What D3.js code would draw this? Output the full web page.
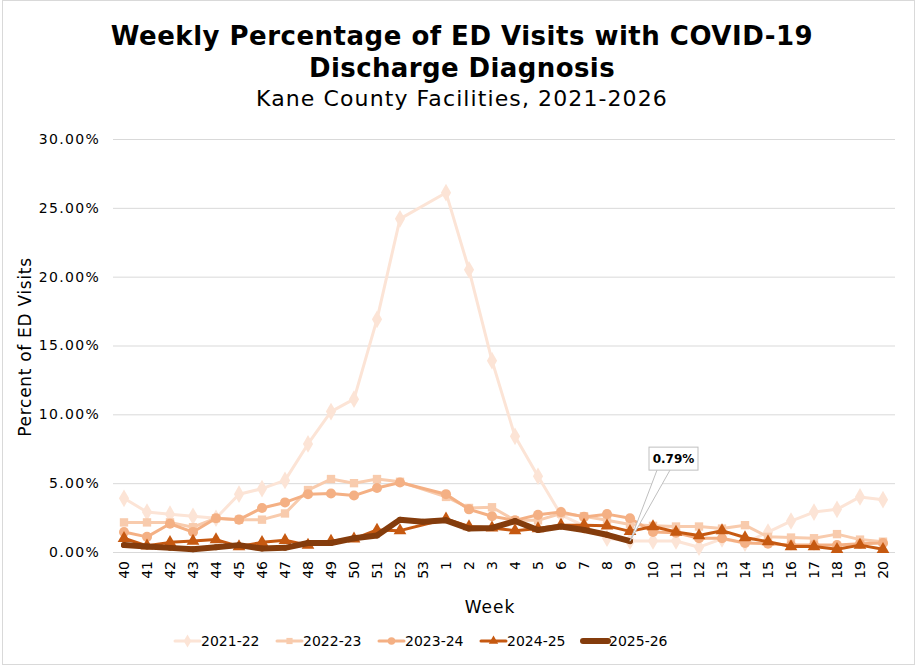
<!DOCTYPE html>
<html>
<head>
<meta charset="utf-8">
<title>Weekly Percentage of ED Visits with COVID-19</title>
<script src="https://d3js.org/d3.v7.min.js"></script>
<style>
  body { margin: 0; background: #fff; }
  svg text { font-family: "DejaVu Sans", Verdana, sans-serif; fill: #000; }
</style>
</head>
<body>
<script>
// weeks run from MMWR week 40 through week 20 of the next year
var weeks = ["40","41","42","43","44","45","46","47","48","49","50","51","52","53",
             "1","2","3","4","5","6","7","8","9","10","11","12","13","14","15","16","17","18","19","20"];
var seasons = ["2021-22", "2022-23", "2023-24", "2024-25", "2025-26"];

// percent of ED visits (null = no week 53 / not reported yet)
var s2122 = [3.9, 2.9, 2.75, 2.6, 2.45, 4.2, 4.6, 5.2, 7.85, 10.2, 11.1, 16.9, 24.2, null,
             26.1, 20.5, 13.9, 8.4, 5.5, 2.7, 1.9, 1.0, 0.8, 0.8, 0.8, 0.35, 0.95, 0.65, 1.45, 2.25, 2.9, 3.1, 4.0, 3.8];
var s2223 = [2.15, 2.15, 2.15, 1.8, 2.45, 2.35, 2.35, 2.8, 4.5, 5.3, 5.0, 5.3, 5.1, null,
             4.0, 3.2, 3.25, 2.3, 2.3, 2.8, 2.6, 2.3, 2.0, 1.9, 1.85, 1.85, 1.7, 1.95, 1.1, 1.05, 1.0, 1.3, 0.9, 0.75];
var s2324 = [1.45, 1.1, 2.05, 1.45, 2.45, 2.35, 3.2, 3.6, 4.2, 4.25, 4.1, 4.65, 5.05, null,
             4.2, 3.1, 2.6, 2.3, 2.7, 2.9, 2.55, 2.75, 2.45, 1.45, 1.4, 1.0, 1.0, 0.65, 0.6, 0.5, 0.5, 0.5, 0.6, 0.65];
var s2425 = [1.0, 0.45, 0.7, 0.8, 0.9, 0.4, 0.7, 0.85, 0.5, 0.8, 0.95, 1.6, 1.55, null,
             2.4, 1.85, 1.75, 1.55, 1.7, 1.95, 1.95, 1.9, 1.5, 1.85, 1.45, 1.2, 1.55, 1.05, 0.75, 0.4, 0.4, 0.2, 0.5, 0.2];
var s2526 = [0.5, 0.4, 0.3, 0.2, 0.35, 0.5, 0.25, 0.3, 0.65, 0.65, 1.0, 1.2, 2.35, 2.2,
             2.3, 1.7, 1.75, 2.25, 1.6, 1.85, 1.6, 1.25, 0.79, null, null, null, null, null, null, null, null, null, null, null];
var yTicks = [0, 5, 10, 15, 20, 25, 30];

var colors  = ["#fce4d6", "#f8cbad", "#f4b084", "#c65911", "#843c0c"];
var widths  = [3, 3, 3, 3, 6];
var symbols = [d3.symbolDiamond, d3.symbolSquare, d3.symbolCircle, d3.symbolTriangle, d3.symbolCircle];
var symSize = [90, 70, 80, 70, 28];

var allSeries = [s2122, s2223, s2324, s2425, s2526].map(function(vals, i) {
  return {
    name: seasons[i],
    points: weeks.map(function(w, j) { return { week: w, value: vals[j] }; })
                 .filter(function(d) { return d.value !== null; })
  };
});

var width = 916, height = 668;
var svg = d3.select("body").append("svg").attr("width", width).attr("height", height);

svg.append("rect").attr("x", 2.5).attr("y", 0.5).attr("width", width - 4).attr("height", height - 4)
   .attr("fill", "#fff").attr("stroke", "#d9d9d9");

var x = d3.scalePoint().domain(weeks).range([124, 883]);
var y = d3.scaleLinear().domain([0, 30]).range([552, 139]);

// gridlines + y tick labels
var yAxis = d3.axisLeft(y).tickValues(yTicks).tickSize(-(895 - 113)).tickPadding(13)
              .tickFormat(function(d) { return d.toFixed(2) + "%"; });
var gy = svg.append("g").attr("transform", "translate(113,0)").call(yAxis);
gy.select(".domain").remove();
gy.selectAll("line").attr("stroke", "#d9d9d9");
gy.selectAll("text").attr("font-size", 14).attr("letter-spacing", 1.3).attr("fill", "#000");

// x axis
var gx = svg.append("g").attr("transform", "translate(0,552)").call(d3.axisBottom(x).tickSize(0));
gx.select(".domain").attr("d", "M113,0.5H895").attr("stroke", "#d9d9d9");
gx.selectAll("text").attr("font-size", 14).attr("fill", "#000")
  .attr("transform", "rotate(-90)").attr("text-anchor", "end")
  .attr("x", -9).attr("y", 0).attr("dy", "0.35em");

var line = d3.line().x(function(d) { return x(d.week); }).y(function(d) { return y(d.value); });

allSeries.forEach(function(s, i) {
  var g = svg.append("g");
  g.append("path").datum(s.points).attr("d", line)
    .attr("fill", "none").attr("stroke", colors[i]).attr("stroke-width", widths[i])
    .attr("stroke-linejoin", "round").attr("stroke-linecap", "round");
  g.selectAll("path.mk").data(s.points).enter().append("path").attr("class", "mk")
    .attr("d", d3.symbol().type(symbols[i]).size(symSize[i]))
    .attr("transform", function(d) { return "translate(" + x(d.week) + "," + y(d.value) + ")"; })
    .attr("fill", colors[i]);
});

// callout on latest 2025-26 value
var last = allSeries[4].points[allSeries[4].points.length - 1];
var px = x(last.week), py = y(last.value);
var bx = px + 19, by = py - 94, bw = 49, bh = 23;
var call = svg.append("g");
call.append("path")
  .attr("d", "M" + (bx + 8) + "," + (by + bh) + "L" + px + "," + py + "L" + (bx + 21) + "," + (by + bh))
  .attr("fill", "#fff").attr("stroke", "#bfbfbf").attr("stroke-width", 1);
call.append("rect").attr("x", bx).attr("y", by).attr("width", bw).attr("height", bh)
  .attr("fill", "#fff").attr("stroke", "#bfbfbf");
call.append("text").attr("x", bx + bw / 2).attr("y", by + bh / 2).attr("dy", "0.36em")
  .attr("text-anchor", "middle").attr("font-size", 12).attr("font-weight", "bold")
  .text(d3.format(".2%")(last.value / 100));

// titles
svg.append("text").attr("x", 462).attr("y", 45).attr("text-anchor", "middle")
  .attr("font-size", 26).attr("letter-spacing", 0.5).attr("font-weight", "bold")
  .text("Weekly Percentage of ED Visits with COVID-19");
svg.append("text").attr("x", 462).attr("y", 77).attr("text-anchor", "middle")
  .attr("font-size", 26).attr("letter-spacing", 0.4).attr("font-weight", "bold")
  .text("Discharge Diagnosis");
svg.append("text").attr("x", 462).attr("y", 106).attr("text-anchor", "middle")
  .attr("font-size", 22).attr("letter-spacing", 1.1).text("Kane County Facilities, 2021-2026");

svg.append("text").attr("transform", "translate(31,347) rotate(-90)").attr("text-anchor", "middle")
  .attr("font-size", 17).attr("letter-spacing", 0.7).text("Percent of ED Visits");
svg.append("text").attr("x", 490).attr("y", 613).attr("text-anchor", "middle")
  .attr("font-size", 17).attr("letter-spacing", 1).text("Week");

// legend
var lg = svg.selectAll("g.leg").data(seasons).enter().append("g").attr("class", "leg")
  .attr("transform", function(d, i) { return "translate(" + (175 + i * 102) + ",641)"; });
lg.append("line").attr("x1", 0).attr("x2", 25).attr("y1", 0).attr("y2", 0)
  .attr("stroke", function(d, i) { return colors[i]; })
  .attr("stroke-width", function(d, i) { return widths[i]; })
  .attr("stroke-linecap", "round");
lg.append("path").attr("transform", "translate(12.5,0)")
  .attr("d", function(d, i) { return d3.symbol().type(symbols[i]).size(symSize[i] * 0.55)(); })
  .attr("fill", function(d, i) { return colors[i]; });
lg.append("text").attr("x", 26).attr("y", 0).attr("dy", "0.36em").attr("font-size", 14)
  .text(function(d) { return d; });
</script>
</body>
</html>
